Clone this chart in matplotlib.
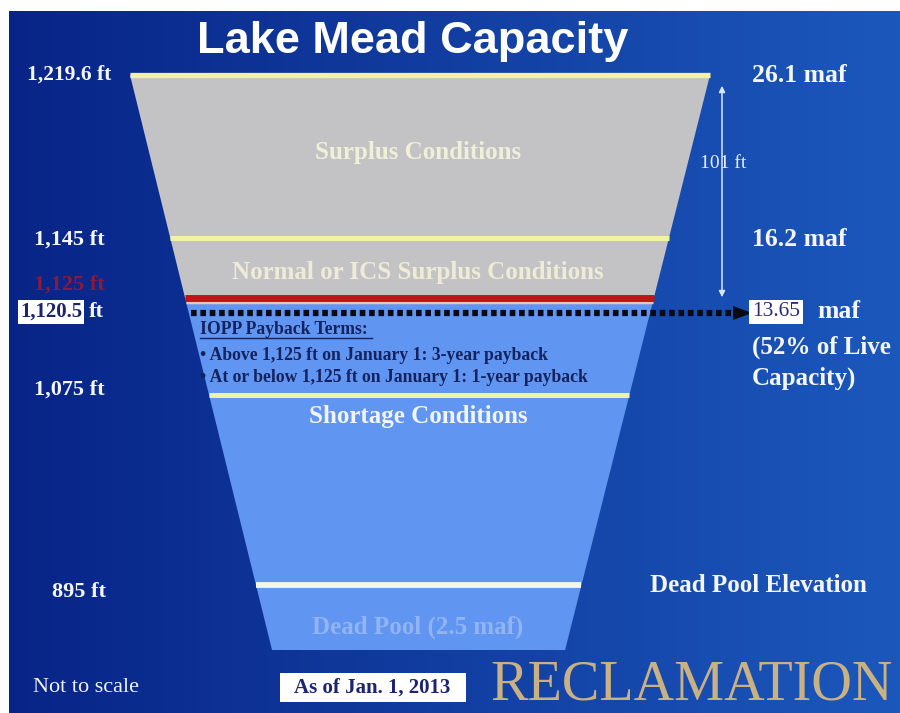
import numpy as np
import matplotlib.pyplot as plt
from matplotlib.patches import Polygon, Rectangle, FancyArrowPatch

plt.rcParams['font.family'] = ['Liberation Serif', 'DejaVu Serif']

# chart values (elevations in ft, storage in maf)
elevations = [1219.6, 1145, 1125, 1120.5, 1075, 895]
elev_labels = ['1,219.6 ft', '1,145 ft', '1,125 ft', '1,120.5', '1,075 ft', '895 ft']
storage = [26.1, 16.2, 13.65]
storage_labels = ['26.1 maf', '16.2 maf', '13.65']
zones = ['Surplus Conditions', 'Normal or ICS Surplus Conditions',
         'Shortage Conditions', 'Dead Pool (2.5 maf)']
payback_terms = ['IOPP Payback Terms:',
                 '\u2022 Above 1,125 ft on January 1: 3-year payback',
                 '\u2022 At or below 1,125 ft on January 1: 1-year payback']
range_label = '101 ft'
live_share = '(52% of Live\nCapacity)'

# "Not to scale": vertical pixel position of each level in the drawing
level_y = {1219.6: 75, 1145: 238, 1125: 298, 1120.5: 313, 1075: 395, 895: 585}
bottom_y = 650

W, H = 900, 713
fig = plt.figure(figsize=(9, 7.13), dpi=100)
ax = fig.add_axes([0, 0, 1, 1])
ax.set_xlim(0, W)
ax.set_ylim(H, 0)
ax.axis('off')

# background: white frame + blue horizontal gradient
ax.add_patch(Rectangle((0, 0), W, H, color='white', zorder=0))
t = np.linspace(0, 1, 256)
left = np.array([8, 36, 135]) / 255
right = np.array([28, 88, 188]) / 255
grad = (left[None, :] * (1 - t[:, None]) + right[None, :] * t[:, None])[None, :, :]
ax.imshow(grad, extent=(9, W, H, 11), aspect='auto', zorder=0.5)


def xl(y):
    return 130 + 0.247 * (y - 75)


def xr(y):
    return 710 - 0.252 * (y - 75)


top, red_y = level_y[1219.6], level_y[1125]
ax.add_patch(Polygon([(xl(top), top), (xr(top), top), (xr(red_y), red_y), (xl(red_y), red_y)],
                     closed=True, facecolor='#c3c3c6', edgecolor='none', zorder=1))
ax.add_patch(Polygon([(xl(red_y), red_y), (xr(red_y), red_y),
                      (xr(bottom_y), bottom_y), (xl(bottom_y), bottom_y)],
                     closed=True, facecolor='#6095f2', edgecolor='none', zorder=1))

# level lines
for elev, col, lw in [(1219.6, '#f2f2a6', 3.8), (1145, '#f2f2a6', 3.6),
                      (1075, '#f2f2a6', 3.6), (895, '#f6f6e6', 4.2)]:
    y = level_y[elev]
    ax.plot([xl(y), xr(y)], [y, y], color=col, lw=lw, solid_capstyle='butt', zorder=3)
ax.plot([xl(red_y + 4), xr(red_y + 4)], [red_y + 4, red_y + 4], color='#e9c4c4', lw=2.5,
        solid_capstyle='butt', zorder=3)
ax.plot([xl(red_y), xr(red_y)], [red_y, red_y], color='#c01515', lw=5, solid_capstyle='butt', zorder=3)

# dotted line with arrow to 13.65 maf
yd = level_y[1120.5]
ax.plot([xl(yd) + 2, 736], [yd, yd], color='#0a0a14', lw=4.5, ls=(0, (0.9, 0.6)),
        solid_capstyle='butt', zorder=4)
ax.add_patch(Polygon([(733, yd - 7), (752, yd), (733, yd + 7)], closed=True,
                     facecolor='#0a0a14', edgecolor='none', zorder=4))

# 101 ft span arrow
ax.add_patch(FancyArrowPatch((722, 83), (722, 300), arrowstyle='<|-|>', mutation_scale=9,
                             color='#d8e6fa', lw=1.1, zorder=4))
ax.text(723, 163, range_label, ha='center', va='center', fontsize=14, color='#e8eefa', zorder=5)

# title
ax.text(413, 42, 'Lake Mead Capacity', ha='center', va='center', fontsize=32.5,
        fontweight='bold', color='white', family=['Liberation Sans', 'DejaVu Sans'], zorder=5)

# zone labels
zkw = dict(ha='center', va='center', fontsize=18, fontweight='bold', zorder=5)
ax.text(418, 153, zones[0], color='#f0efd8', **zkw)
ax.text(418, 273, zones[1], color='#eeecd6', **zkw)
ax.text(418, 417, zones[2], color='#f2f4fa', **zkw)
ax.text(418, 627, zones[3], color='#93b4f2', **zkw)

# payback terms
pkw = dict(ha='left', va='center', fontsize=12.7, fontweight='bold', color='#14225e', zorder=5)
ax.text(200, 330, payback_terms[0], **pkw)
ax.plot([200, 372], [338, 338], color='#14225e', lw=1, zorder=5)
ax.text(200, 355, payback_terms[1], **pkw)
ax.text(200, 378, payback_terms[2], **pkw)

# left elevation labels
lab = dict(ha='left', va='center', fontsize=16, fontweight='bold', color='#f4f6fc', zorder=5)
ax.text(27, 75, elev_labels[0], ha='left', va='center', fontsize=15.5, fontweight='bold',
        color='#f4f6fc', zorder=5)
ax.text(34, 240, elev_labels[1], **lab)
ax.text(34, 285, elev_labels[2], ha='left', va='center', fontsize=16, fontweight='bold',
        color='#8a1a3a', zorder=5)
ax.text(20, 312, elev_labels[3], ha='left', va='center', fontsize=15, fontweight='bold',
        color='#1c2470', zorder=6,
        bbox=dict(boxstyle='square,pad=0.08', facecolor='white', edgecolor='none'))
ax.text(89, 312, 'ft', **lab)
ax.text(34, 390, elev_labels[4], **lab)
ax.text(52, 592, elev_labels[5], **lab)
ax.text(33, 688, 'Not to scale', ha='left', va='center', fontsize=16, color='#eef2fb', zorder=5)

# right storage labels
rkw = dict(ha='left', va='center', fontsize=18.5, fontweight='bold', color='#f4f6fc', zorder=5)
ax.text(752, 75, storage_labels[0], **rkw)
ax.text(752, 240, storage_labels[1], **rkw)
ax.text(752, 312, storage_labels[2], ha='left', va='center', fontsize=15.5, color='#2a2a78',
        zorder=6, bbox=dict(boxstyle='square,pad=0.12', facecolor='white', edgecolor='none'))
ax.text(817, 312, 'maf', **rkw)
ax.text(752, 363, live_share, ha='left', va='center', fontsize=18, fontweight='bold',
        color='#f4f6fc', linespacing=1.45, zorder=5)
ax.text(650, 585, 'Dead Pool Elevation', ha='left', va='center', fontsize=18,
        fontweight='bold', color='#f4f6fc', zorder=5)

# date box
ax.add_patch(Rectangle((280, 673), 186, 29, facecolor='white', edgecolor='none', zorder=5))
ax.text(372, 687.5, 'As of Jan. 1, 2013', ha='center', va='center', fontsize=15,
        fontweight='bold', color='#1c2470', zorder=6)

# agency wordmark
ax.text(490, 685, 'RECLAMATION', ha='left', va='center', fontsize=40.5, color='#c9b183', zorder=5)

fig.savefig('out.png', dpi=100)
